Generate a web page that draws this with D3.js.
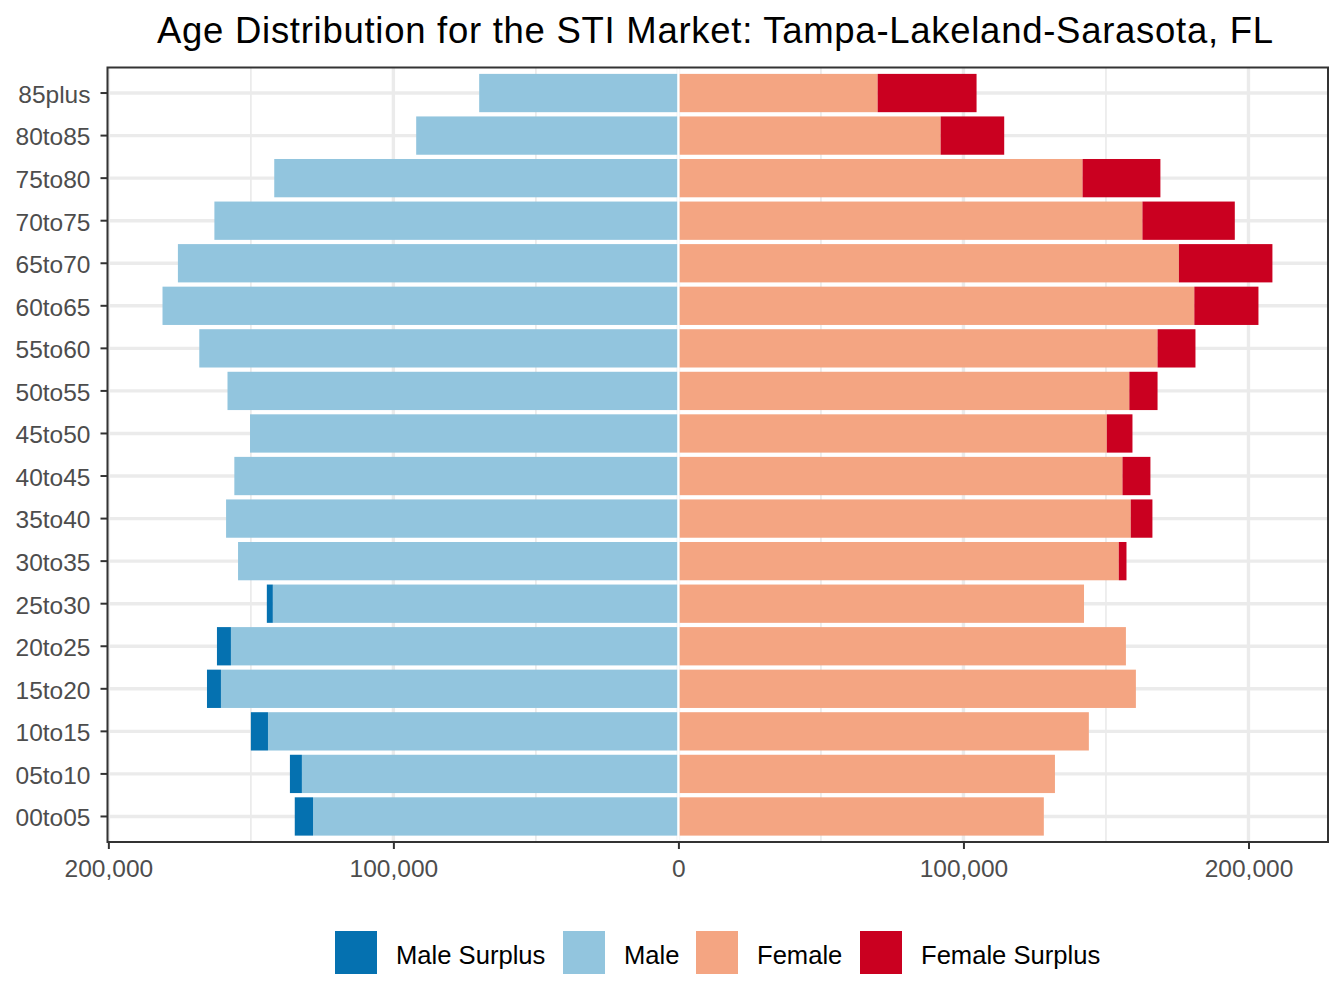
<!DOCTYPE html>
<html>
<head>
<meta charset="utf-8">
<script src="https://cdn.jsdelivr.net/npm/d3@7"></script>
<style>
  body { margin: 0; background: #fff; }
  svg { display: block; font-family: "Liberation Sans", Arial, sans-serif; }
</style>
</head>
<body>
<div id="chart"></div>
<script>
// DATA
var ageGroups = ["85plus", "80to85", "75to80", "70to75", "65to70", "60to65", "55to60", "50to55", "45to50",
  "40to45", "35to40", "30to35", "25to30", "20to25", "15to20", "10to15", "05to10", "00to05"];
var maleTotal = [69900, 92000, 141800, 162800, 175600, 181000, 168100, 158200, 150300,
  155800, 158700, 154500, 144400, 161900, 165400, 150000, 136300, 134600];
var femaleTotal = [104600, 114300, 169100, 195200, 208400, 203500, 181400, 168100, 159300,
  165600, 166300, 157200, 142300, 157000, 160500, 144000, 132100, 128200];
var legendLabels = ["Male Surplus", "Male", "Female", "Female Surplus"];
var legendColours = ["#0571B0", "#92C5DE", "#F4A582", "#CA0020"];
var majorTicks = [-200000, -100000, 0, 100000, 200000];
var minorTicks = [-150000, -50000, 50000, 150000];
var title = "Age Distribution for the STI Market: Tampa-Lakeland-Sarasota, FL";

// SETUP
var W = 1344, H = 1008;
var panel = { left: 107.5, right: 1328, top: 67.5, bottom: 842 };

var svg = d3.select("#chart").append("svg")
  .attr("width", W)
  .attr("height", H);

var x = d3.scaleLinear()
  .domain([-200300, 227900])
  .range([panel.left, panel.right]);

var y = d3.scaleBand()
  .domain(ageGroups)
  .range([panel.top, panel.bottom])
  .paddingInner(0.1)
  .paddingOuter(0.15);

var colour = d3.scaleOrdinal().domain(legendLabels).range(legendColours);

// segments: shared part and surplus for each side
var segs = [];
ageGroups.forEach(function (g, i) {
  var m = maleTotal[i], f = femaleTotal[i], common = Math.min(m, f);
  segs.push({ group: g, key: "Male", x0: -common, x1: 0 });
  segs.push({ group: g, key: "Female", x0: 0, x1: common });
  if (m > f) segs.push({ group: g, key: "Male Surplus", x0: -m, x1: -common });
  if (f > m) segs.push({ group: g, key: "Female Surplus", x0: common, x1: f });
});

// DRAWING
svg.append("rect")
  .attr("x", panel.left).attr("y", panel.top)
  .attr("width", panel.right - panel.left)
  .attr("height", panel.bottom - panel.top)
  .attr("fill", "#fff");

var grid = svg.append("g");
grid.selectAll(".minor")
  .data(minorTicks)
  .enter().append("line")
  .attr("x1", function (d) { return x(d); })
  .attr("x2", function (d) { return x(d); })
  .attr("y1", panel.top).attr("y2", panel.bottom)
  .attr("stroke", "#EBEBEB").attr("stroke-width", 1.7);

grid.selectAll(".majorx")
  .data(majorTicks)
  .enter().append("line")
  .attr("x1", function (d) { return x(d); })
  .attr("x2", function (d) { return x(d); })
  .attr("y1", panel.top).attr("y2", panel.bottom)
  .attr("stroke", "#EBEBEB").attr("stroke-width", 3.4);

grid.selectAll(".majory")
  .data(ageGroups)
  .enter().append("line")
  .attr("x1", panel.left).attr("x2", panel.right)
  .attr("y1", function (d) { return y(d) + y.bandwidth() / 2; })
  .attr("y2", function (d) { return y(d) + y.bandwidth() / 2; })
  .attr("stroke", "#EBEBEB").attr("stroke-width", 3.4);

svg.append("g").selectAll("rect")
  .data(segs)
  .enter().append("rect")
  .attr("x", function (d) { return x(d.x0); })
  .attr("width", function (d) { return x(d.x1) - x(d.x0); })
  .attr("y", function (d) { return y(d.group); })
  .attr("height", y.bandwidth())
  .attr("fill", function (d) { return colour(d.key); });

// white divider at zero
svg.append("line")
  .attr("x1", x(0)).attr("x2", x(0))
  .attr("y1", panel.top).attr("y2", panel.bottom)
  .attr("stroke", "#fff").attr("stroke-width", 2.4);

svg.append("rect")
  .attr("x", panel.left).attr("y", panel.top)
  .attr("width", panel.right - panel.left)
  .attr("height", panel.bottom - panel.top)
  .attr("fill", "none")
  .attr("stroke", "#333333").attr("stroke-width", 2);

// axes
var fmt = d3.format(",");
var xAxis = svg.append("g")
  .attr("transform", "translate(0," + panel.bottom + ")")
  .call(d3.axisBottom(x).tickValues(majorTicks)
    .tickFormat(function (d) { return fmt(Math.abs(d)); })
    .tickSize(7).tickPadding(11).tickSizeOuter(0));

var yAxis = svg.append("g")
  .attr("transform", "translate(" + panel.left + ",0)")
  .call(d3.axisLeft(y).tickSize(7).tickPadding(10).tickSizeOuter(0));

[xAxis, yAxis].forEach(function (a) {
  a.select(".domain").remove();
  a.selectAll(".tick line").attr("stroke", "#333333").attr("stroke-width", 2);
  a.selectAll(".tick text")
    .attr("fill", "#4D4D4D")
    .style("font-size", "24.5px")
    .style("font-family", "'Liberation Sans', Arial, sans-serif");
});
yAxis.selectAll(".tick text").attr("dy", "0.4em");

// title
svg.append("text")
  .attr("x", 715)
  .attr("y", 43)
  .attr("text-anchor", "middle")
  .attr("fill", "#000")
  .attr("textLength", 1116)
  .attr("lengthAdjust", "spacing")
  .style("font-size", "36.5px")
  .text(title);

// legend
var keyX = [335, 563, 696, 860];
var legend = svg.append("g");
var items = legend.selectAll("g")
  .data(legendLabels)
  .enter().append("g")
  .attr("transform", function (d, i) { return "translate(" + keyX[i] + ",931)"; });
items.append("rect")
  .attr("width", 42).attr("height", 43)
  .attr("fill", function (d) { return colour(d); });
items.append("text")
  .attr("x", 61)
  .attr("y", 32.5)
  .attr("fill", "#000")
  .style("font-size", "25.6px")
  .text(function (d) { return d; });
</script>
</body>
</html>
